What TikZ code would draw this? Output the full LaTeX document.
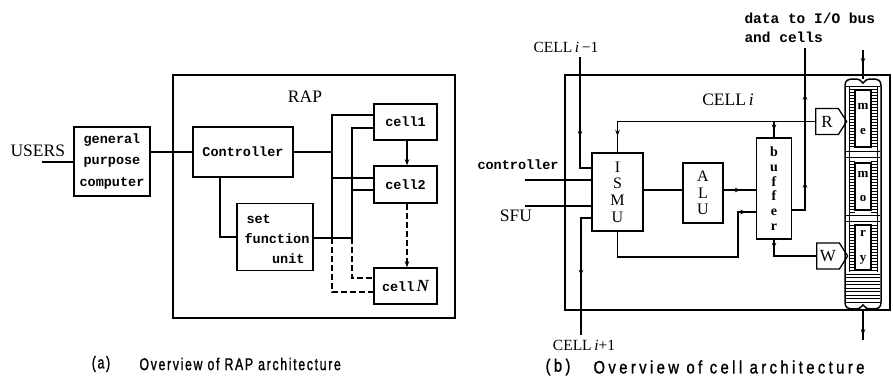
\documentclass[tikz,border=0pt]{standalone}
\usepackage{fontspec}
\setmainfont{Liberation Serif}
\newfontfamily\twfont{Liberation Mono}
\newfontfamily\capfont{Liberation Sans}[FakeStretch=0.72, LetterSpace=10, FakeBold=1.2]
\newfontfamily\capfontb{Liberation Sans}[FakeStretch=0.82, LetterSpace=19, FakeBold=1.2]
\usetikzlibrary{arrows.meta,decorations.markings,shapes.symbols}
\begin{document}
\begin{tikzpicture}[x=1pt,y=-1pt,
  >={Stealth[length=6pt,width=4.5pt]},
  box/.style={draw, line width=1.5pt, inner sep=0pt},
  ln/.style={line width=1.2pt},
  tw/.style={font=\twfont\bfseries\fontsize{13.5}{21.5}\selectfont},
  sr/.style={font=\fontsize{17.5}{19}\selectfont},
  srs/.style={font=\fontsize{15.5}{17}\selectfont},
  captxt/.style={font=\capfont\fontsize{17}{19}\selectfont},
  captxtb/.style={font=\capfontb\fontsize{18}{20}\selectfont},
  stack/.style={align=center, font=\fontsize{16}{#1}\selectfont},
  marr/.style={postaction={decorate},decoration={markings,mark=at position #1 with {\arrow{>}}}},
  pent/.style={draw, line width=1.3pt, signal, signal to=east, signal pointer angle=115,
    minimum width=31pt, minimum height=26pt, inner sep=0pt, font=\fontsize{17}{18}\selectfont},
]
\useasboundingbox (0,0) rectangle (893,388);

% ================= (a) =================
\node[box, minimum width=282pt, minimum height=243pt] (rap) at (314,196.5) {};
\node[sr] (raplbl) at (305,97) {RAP};
\node[sr, anchor=west] (users) at (7,151) {USERS};
\coordinate (usin) at (42,162);
\node[box, minimum width=76pt, minimum height=69pt, tw, align=center] (gpc) at (112,161.5) {general\\purpose\\computer};
\node[box, minimum width=100pt, minimum height=50pt, tw] (ctrl) at (243,152) {Controller};
\node[box, minimum width=76pt, minimum height=67pt] (sfu) at (275,237) {};
\node[tw, anchor=west] (sfu1) at (243,219) {set};
\node[tw] (sfu2) at (277,239) {function};
\node[tw, anchor=east] (sfu3) at (308,259) {unit};
\node[box, minimum width=63pt, minimum height=36pt, tw] (c1) at (405.5,122) {cell1};
\node[box, minimum width=63pt, minimum height=37pt, tw] (c2) at (405.5,184.5) {cell2};
\node[box, minimum width=63pt, minimum height=36pt, tw] (cN) at (405.5,286) {cell\,{\rmfamily\itshape\fontsize{17}{18}\selectfont N}};

\draw[ln] (usin) -- (gpc.west |- usin);
\draw[ln] (gpc.east |- ctrl.east) -- (ctrl.east -| ctrl.west);
\coordinate (cx) at (220,239);
\draw[ln] (ctrl.south -| cx) |- (sfu.west);

\coordinate (b1t) at (332,115);
\coordinate (b1m) at (332,238);
\coordinate (b1b) at (332,292);
\coordinate (b2t) at (352,128);
\coordinate (b2m) at (352,238);
\coordinate (b2b) at (352,278);
\draw[ln] (c1.west |- b1t) -- (b1t) -- (b1m);
\draw[ln, dashed, dash pattern=on 6pt off 3pt] (b1m) -- (b1b) -- (cN.west |- b1b);
\draw[ln] (c1.west |- b2t) -- (b2t) -- (b2m);
\draw[ln, dashed, dash pattern=on 6pt off 3pt] (b2m) -- (b2b) -- (cN.west |- b2b);
\draw[ln] (ctrl.east) -- (ctrl.east -| b1t);
\draw[ln] (b1t |- 0,178) -- (c2.west |- 0,178);
\draw[ln] (b2t |- 0,190) -- (c2.west |- 0,190);
\draw[ln] (sfu.east |- b2m) -- (b2m);
\draw[ln, ->] (c1.south -| 407,0) -- (c2.north -| 407,0);
\draw[ln, ->, dashed, dash pattern=on 6pt off 3pt] (c2.south -| 407,0) -- (cN.north -| 407,0);

% ================= (b) =================
\node[box, minimum width=325pt, minimum height=235pt] (cb) at (727.5,192.5) {};
\node[sr] (celli) at (728,100) {CELL\,\textit{i}};
\node[srs] (cim1t) at (566,47) {CELL\,\textit{i}\,−1};
\node[srs] (cip1t) at (584,345) {CELL\,\textit{i}+1};
\node[tw, font=\twfont\bfseries\fontsize{14.5}{18}\selectfont, anchor=west] (d1) at (741,18) {data to I/O bus};
\node[tw, font=\twfont\bfseries\fontsize{14.5}{18}\selectfont, anchor=west] (d2) at (741,37) {and cells};
\node[tw] (ctxt) at (518,165) {controller};
\node[sr] (stxt) at (516,216) {SFU};

\node[box, minimum width=51pt, minimum height=78pt, stack=16.7] (ismu) at (617.5,192) {I\\S\\M\\U};
\node[box, minimum width=40pt, minimum height=60pt, stack=16.5] (alu) at (703,193) {A\\L\\U};
\node[box, minimum width=35pt, minimum height=101pt, align=center, font=\bfseries\fontsize{14}{14.7}\selectfont] (buf) at (774,188.5) {b\\u\\f\\f\\e\\r};
\node[pent, anchor=west] (R) at (815,121.5) {R};
\node[pent, anchor=west] (W) at (816,256) {W};

% memory column
\node[minimum width=36pt, minimum height=230pt, inner sep=0pt] (mem) at (863,194) {};
\draw[line width=1.5pt] (845,302) -- (845,86) .. controls (845,80) and (848,79) .. (854,79)
  .. controls (859,79) and (861,80) .. (863,83) .. controls (865,80) and (867,79) .. (872,79)
  .. controls (878,79) and (881,80) .. (881,86) -- (881,302)
  .. controls (881,308) and (878,309) .. (872,309) .. controls (867,309) and (865,308) .. (863,305)
  .. controls (861,308) and (859,309) .. (854,309) .. controls (848,309) and (845,308) .. (845,302) -- cycle;
\draw[line width=0.8pt] (849,86) -- (849,272) (877,86) -- (877,272);
\draw[line width=0.9pt] (846,86) -- (880,86);
\foreach \yy in {89,92,...,147} {\draw[line width=0.8pt] (849,\yy) -- (855,\yy) (871,\yy) -- (877,\yy);}
\foreach \yy in {161,164,...,213} {\draw[line width=0.8pt] (849,\yy) -- (855,\yy) (871,\yy) -- (877,\yy);}
\foreach \yy in {225,228,...,271} {\draw[line width=0.8pt] (849,\yy) -- (855,\yy) (871,\yy) -- (877,\yy);}
\draw[line width=1pt] (846,151) -- (880,151) (846,157) -- (880,157) (846,215) -- (880,215) (846,221) -- (880,221);
\foreach \yy in {274,277.5,...,303} {\draw[line width=0.9pt] (846,\yy) -- (880,\yy);}
\node[draw, line width=1.2pt, minimum width=16pt, minimum height=57pt, inner sep=0pt, align=center, font=\bfseries\fontsize{13}{25}\selectfont, fill=white] (m1) at (863,118.5) {m\\e};
\node[draw, line width=1.2pt, minimum width=16pt, minimum height=47pt, inner sep=0pt, align=center, font=\bfseries\fontsize{13}{24}\selectfont, fill=white] (m2) at (863,186.5) {m\\o};
\node[draw, line width=1.2pt, minimum width=16pt, minimum height=45pt, inner sep=0pt, align=center, font=\bfseries\fontsize{13}{25}\selectfont, fill=white] (m3) at (863,247.5) {r\\y};

% connectors (b)
\coordinate (cim) at (580,57);
\coordinate (cip) at (581,335);
\coordinate (ctin) at (525,180);
\coordinate (sfin) at (525,206);
\coordinate (dtop) at (805,48);
\coordinate (mtop) at (863,50);
\coordinate (mbot) at (863,340);
\coordinate (lowc) at (738,257);
\draw[ln, marr=80pt] (cim) |- (ismu.west |- 0,168);
\draw[ln, marr=212pt] (R.west) -| (ismu.north);
\draw[ln, marr=9pt] (buf.north |- R.west) -- (buf.north);
\draw[ln] (ctin) -- (ismu.west |- ctin);
\draw[ln] (sfin) -- (ismu.west |- sfin);
\draw[ln, marr=68pt] (ismu.west |- 0,218) -| (cip);
\draw[ln] (ismu.east |- 0,190) -- (alu.west |- 0,190);
\draw[ln, marr=17pt] (alu.east |- 0,190) -- (buf.west |- 0,190);
\draw[ln, marr=199pt] (ismu.south) |- (lowc) |- (buf.west |- 0,212);
\draw[ln, postaction={decorate}, decoration={markings, mark=at position 41pt with {\arrow{>}}, mark=at position 129pt with {\arrow{>}}}] (buf.east |- 0,210) -| (dtop);
\draw[ln, marr=9pt] (buf.south) |- (W.west);
\draw[ln, marr=14pt] (mtop) -- (mem.north);
\draw[ln, marr=26pt] (mem.south) -- (mbot);

% captions
\node[captxt] (capa1) at (101,364) {(a)};
\node[captxt, anchor=west] (capa2) at (136,364) {Overview of RAP architecture};
\node[captxtb] (capb1) at (558,367) {(b)};
\node[captxtb, anchor=west] (capb2) at (590,367) {Overview of cell architecture};
\end{tikzpicture}
\end{document}
